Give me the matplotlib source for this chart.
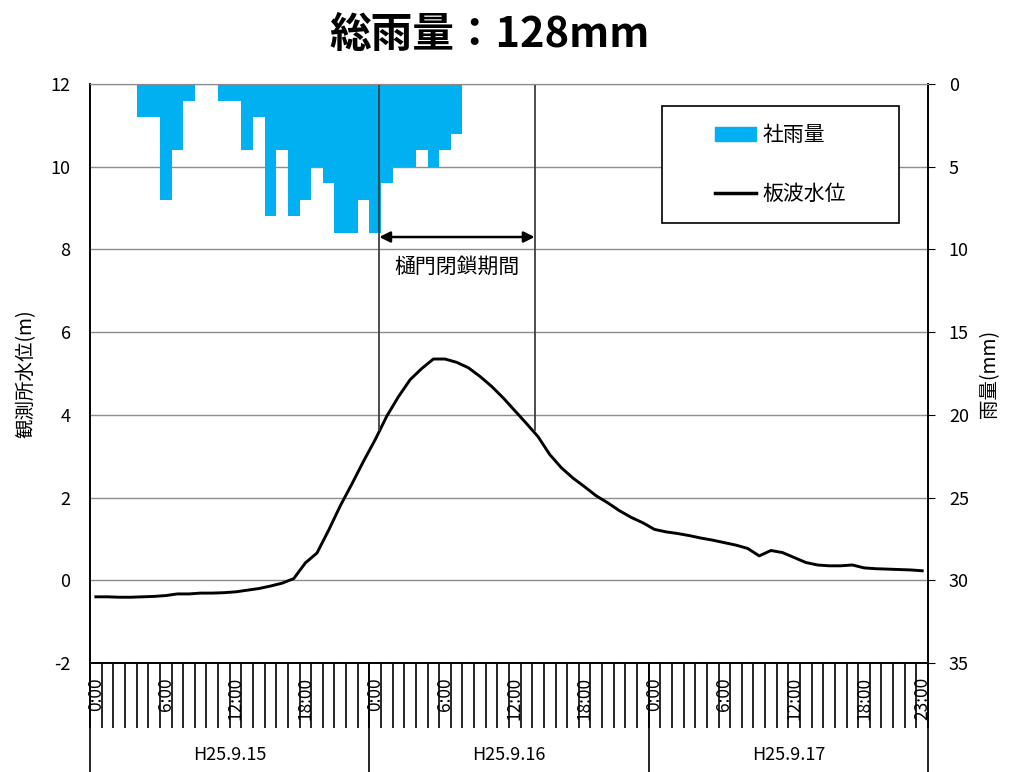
import numpy as np
import matplotlib
matplotlib.use("Agg")
import matplotlib.pyplot as plt
from matplotlib.patches import Patch, Rectangle
from matplotlib.lines import Line2D

plt.rcParams['font.family'] = ['Noto Sans CJK JP', 'DejaVu Sans']
plt.rcParams['axes.unicode_minus'] = False

# hourly records, 2013-09-15 0:00 .. 2013-09-17 23:00
days = ["H25.9.15", "H25.9.16", "H25.9.17"]
hour_labels = ["0:00", "6:00", "12:00", "18:00"]

# hourly rainfall (mm)
rain = [0, 0, 0, 0, 2, 2, 7, 4, 1, 0, 0, 1, 1, 4, 2, 8, 4, 8, 7, 5, 6, 9, 9, 7,
        9, 6, 5, 5, 4, 5, 4, 3, 0, 0, 0, 0, 0, 0, 0, 0, 0, 0, 0, 0, 0, 0, 0, 0,
        0, 0, 0, 0, 0, 0, 0, 0, 0, 0, 0, 0, 0, 0, 0, 0, 0, 0, 0, 0, 0, 0, 0, 0]

# water level at the gauge (m)
level = [-0.40, -0.40, -0.41, -0.41, -0.40, -0.39, -0.37, -0.33, -0.33, -0.31,
         -0.31, -0.30, -0.28, -0.24, -0.20, -0.14, -0.07, 0.04, 0.42, 0.66,
         1.21, 1.80, 2.33, 2.88, 3.40, 3.97, 4.44, 4.85, 5.12, 5.35,
         5.35, 5.27, 5.14, 4.93, 4.69, 4.41, 4.10, 3.79, 3.47, 3.04,
         2.72, 2.47, 2.26, 2.04, 1.87, 1.68, 1.52, 1.39, 1.23, 1.17,
         1.13, 1.08, 1.02, 0.97, 0.91, 0.85, 0.77, 0.59, 0.72, 0.67,
         0.55, 0.43, 0.37, 0.35, 0.35, 0.37, 0.30, 0.28, 0.27, 0.26,
         0.25, 0.23]

# sluice gate closed period (hour index) and marker height (m)
gate_start, gate_end = 24.35, 37.7
gate_line_bottom = 3.63
arrow_level = 8.3
total_rain = sum(rain)

n = len(level)
x = np.arange(n)

fig = plt.figure(figsize=(10.14, 7.72), dpi=100)
ax1 = fig.add_axes([0.0888, 0.1412, 0.8264, 0.75])
ax2 = ax1.twinx()

# water level (left axis)
ax1.plot(x, level, color='black', lw=2.1, solid_joinstyle='round')
ax1.set_ylim(-2, 12)
ax1.set_yticks(np.arange(-2, 13, 2))
ax1.grid(axis='y', color='#8c8c8c', lw=1)
ax1.set_axisbelow(True)
ax1.tick_params(axis='y', length=0, pad=14, labelsize=13)
ax1.set_ylabel("観測所水位(m)", fontsize=14, va='center')
ax1.yaxis.set_label_coords(-0.076, 0.5)

# rainfall bars (right axis, reversed)
ax2.bar(x, rain, width=1.0, color='#00B0F0', lw=0)
ax2.set_ylim(35, 0)
ax2.set_yticks(np.arange(0, 36, 5))
ax2.tick_params(axis='y', length=5, pad=10, labelsize=13)
ax2.set_ylabel("雨量(mm)", fontsize=14, va='center', rotation=90)
ax2.yaxis.set_label_coords(1.073, 0.5)

# x axis: hourly category ticks with day groups beneath
ax1.set_xlim(-0.5, n - 0.5)
major = []
labels = []
for d in range(len(days)):
    for k, lab in enumerate(hour_labels):
        major.append(d * 24 + k * 6)
        labels.append(lab)
major.append(n - 1)
labels.append("23:00")
ax1.set_xticks(major)
ax1.set_xticklabels(labels, rotation=90)
ax1.set_xticks(np.arange(-0.5, n, 1), minor=True)
ax1.tick_params(axis='x', which='major', length=0, pad=10, labelsize=12.5)
ax1.tick_params(axis='x', which='minor', length=46.8, width=1.2, color='black')

xt = ax1.get_xaxis_transform()
for d in range(len(days) + 1):
    ax1.plot([d * 24 - 0.5] * 2, [0, -0.19], color='black', lw=1.2,
             transform=xt, clip_on=False)
for d, name in enumerate(days):
    ax1.text(d * 24 + 11.5, -0.159, name, transform=xt, ha='center',
             va='center', fontsize=13)

for ax in (ax1, ax2):
    for side in ('left', 'right', 'bottom'):
        ax.spines[side].set_color('black')
        ax.spines[side].set_linewidth(1.2)
    ax.spines['top'].set_color('#8c8c8c')

# gate closed markers drawn above the bars
for gx in (gate_start, gate_end):
    ax2.plot([gx, gx], [gate_line_bottom, 12], color='#404040', lw=1.3,
             transform=ax1.transData)
ax2.annotate("", xy=(gate_end, arrow_level), xytext=(gate_start, arrow_level),
             xycoords=ax1.transData, textcoords=ax1.transData,
             arrowprops=dict(arrowstyle='<|-|>', color='black', lw=1.8,
                             mutation_scale=16, shrinkA=0, shrinkB=0))
ax2.text((gate_start + gate_end) / 2, arrow_level - 0.72, "樋門閉鎖期間",
         transform=ax1.transData, ha='center', va='center', fontsize=15)

# legend inside a fixed frame
ax2.add_patch(Rectangle((0.6826, 0.760), 0.2828, 0.202, transform=ax2.transAxes,
                        facecolor='white', edgecolor='black', lw=1.2, zorder=5))
handles = [Patch(color='#00B0F0'), Line2D([], [], color='black', lw=2.5)]
leg = ax2.legend(handles, ["社雨量", "板波水位"], loc='center',
                 bbox_to_anchor=(0.824, 0.861), frameon=False, fontsize=15,
                 labelspacing=1.75, handlelength=2.0, handletextpad=0.3,
                 handleheight=0.6)
leg.set_zorder(6)

fig.text(0.483, 0.955, f"総雨量：{total_rain}mm", ha='center', va='center',
         fontsize=30, fontweight='bold')

fig.savefig("out.png", dpi=100)
